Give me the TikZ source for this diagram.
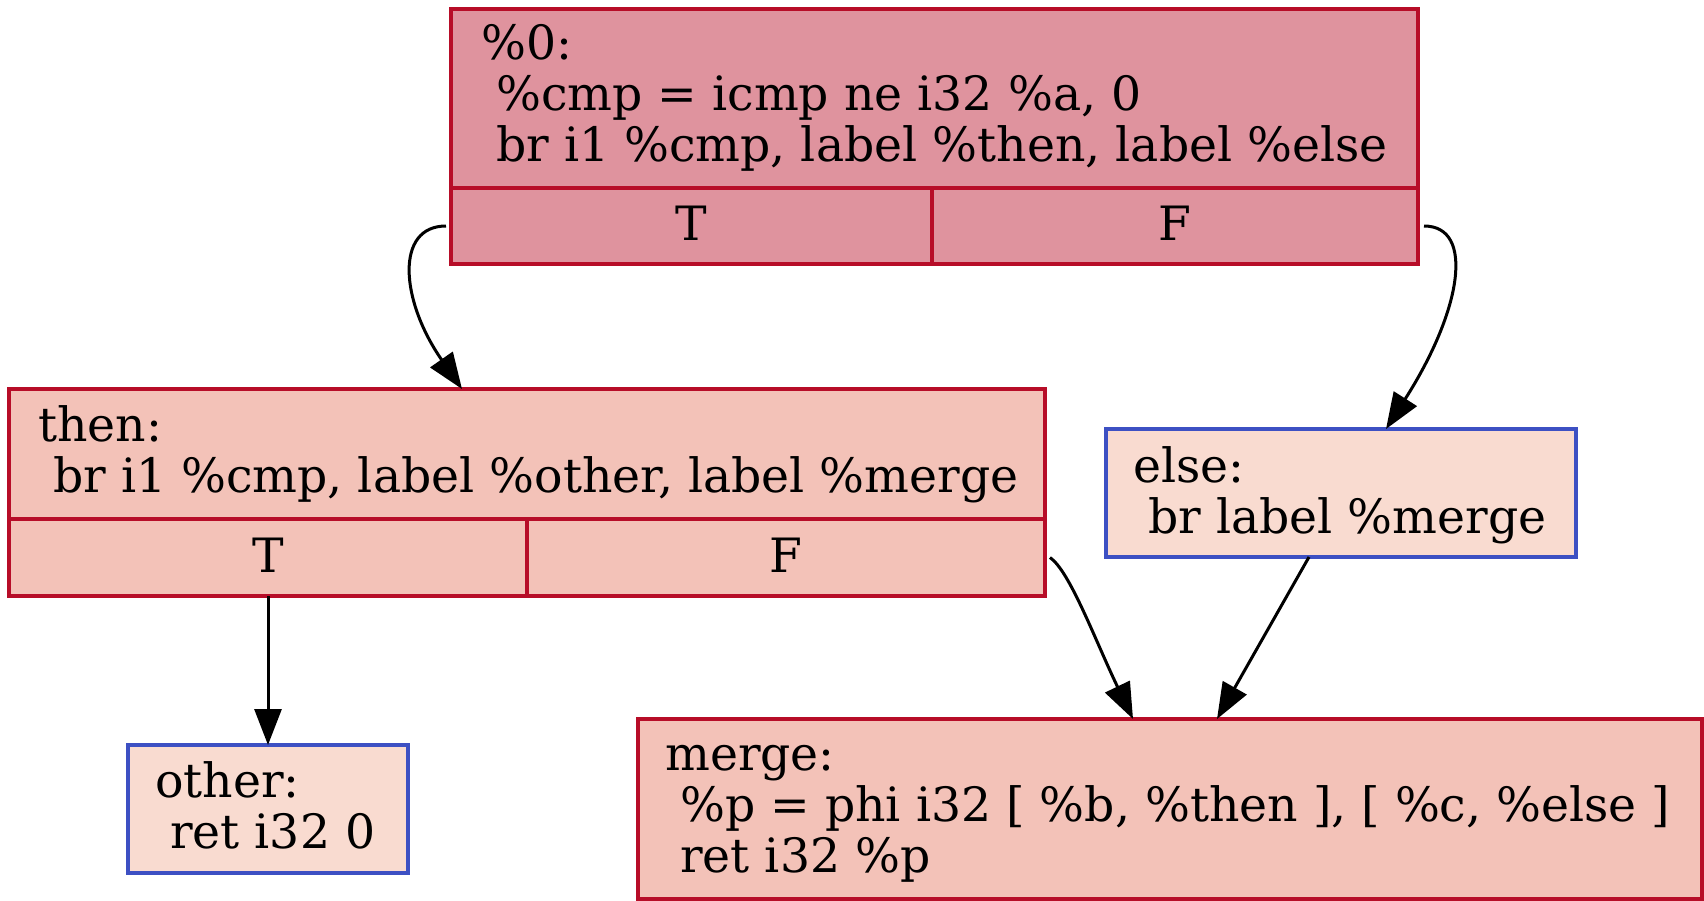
\documentclass[tikz,border=0pt]{standalone}
\usepackage{fontspec}
\setmainfont{DejaVu Serif}
\usetikzlibrary{arrows.meta,calc}
\definecolor{hotline}{HTML}{B70D28}
\definecolor{coldline}{HTML}{3D50C3}
\definecolor{hotfill}{HTML}{DF939E}
\definecolor{warmfill}{HTML}{F3C2B8}
\definecolor{coolfill}{HTML}{F9DBD0}
\tikzset{
  blk/.style={line width=3.2pt, inner sep=0pt, outer sep=0pt, anchor=north west},
  hotbox/.style={blk, draw=hotline, fill=hotfill},
  warmbox/.style={blk, draw=hotline, fill=warmfill},
  coolbox/.style={blk, draw=coldline, fill=coolfill},
  txt/.style={anchor=base west, inner sep=0pt, font=\fontsize{47.3}{51}\selectfont},
  celltxt/.style={anchor=base, inner sep=0pt, font=\fontsize{47.3}{51}\selectfont},
  flow/.style={line width=3pt, -{Triangle[length=36pt,width=27pt]}}
}
\begin{document}
\begin{tikzpicture}[x=1pt,y=-1pt]
\useasboundingbox (0,0) rectangle (1704,900);
% %0 block
\node[hotbox, minimum width=967pt, minimum height=179pt] (b0) at (451,9) {};
\node[hotbox, minimum width=481pt, minimum height=76pt] (b0T) at (451,188) {};
\node[hotbox, minimum width=486pt, minimum height=76pt] (b0F) at (932,188) {};
\node[txt] (b0l1) at (481,59) {\%0:};
\node[txt] (b0l2) at (481,110) {\ \%cmp = icmp ne i32 \%a, 0};
\node[txt] (b0l3) at (481,161) {\ br i1 \%cmp, label \%then, label \%else};
\node[celltxt] (b0Tt) at (691,240) {T};
\node[celltxt] (b0Ft) at (1175,240) {F};
% then block
\node[warmbox, minimum width=1036pt, minimum height=130pt] (b1) at (9,389) {};
\node[warmbox, minimum width=518pt, minimum height=77pt] (b1T) at (9,519) {};
\node[warmbox, minimum width=518pt, minimum height=77pt] (b1F) at (527,519) {};
\node[txt] (b1l1) at (38,441) {then:};
\node[txt] (b1l2) at (38,492) {\ br i1 \%cmp, label \%other, label \%merge};
\node[celltxt] (b1Tt) at (268,572) {T};
\node[celltxt] (b1Ft) at (786,572) {F};
% else block
\node[coolbox, minimum width=470pt, minimum height=128pt] (b3) at (1106,429) {};
\node[txt] (b3l1) at (1133,482) {else:};
\node[txt] (b3l2) at (1133,533) {\ br label \%merge};
% other block
\node[coolbox, minimum width=280pt, minimum height=128pt] (b4) at (128,745) {};
\node[txt] (b4l1) at (155,797) {other:};
\node[txt] (b4l2) at (155,848) {\ ret i32 0};
% merge block
\node[warmbox, minimum width=1064pt, minimum height=180pt] (b5) at (638,719) {};
\node[txt] (b5l1) at (665,770) {merge:};
\node[txt] (b5l2) at (665,821) {\ \%p = phi i32 [ \%b, \%then ], [ \%c, \%else ]};
\node[txt] (b5l3) at (665,872) {\ ret i32 \%p};
% edges
\draw[flow] ($(b0T.west)+(-5,0)$) .. controls ($(b0T.west)+(-56,0)$) and ($(b1.north west)+(391,-89)$) .. ($(b1.north west)+(453,0)$);
\draw[flow] ($(b0F.east)+(6,0)$) .. controls ($(b0F.east)+(57,0)$) and ($(b3.north west)+(356,-119)$) .. ($(b3.north west)+(280,0)$);
\draw[flow] (b1T.south) -- (b4.north);
\draw[flow] ($(b1F.east)+(5,0)$) .. controls ($(b1F.east)+(25,14)$) and ($(b5.north west)+(457,-79)$) .. ($(b5.north west)+(495,0)$);
\draw[flow] ($(b3.south west)+(203,0)$) -- ($(b5.north west)+(579,0)$);
\end{tikzpicture}
\end{document}
